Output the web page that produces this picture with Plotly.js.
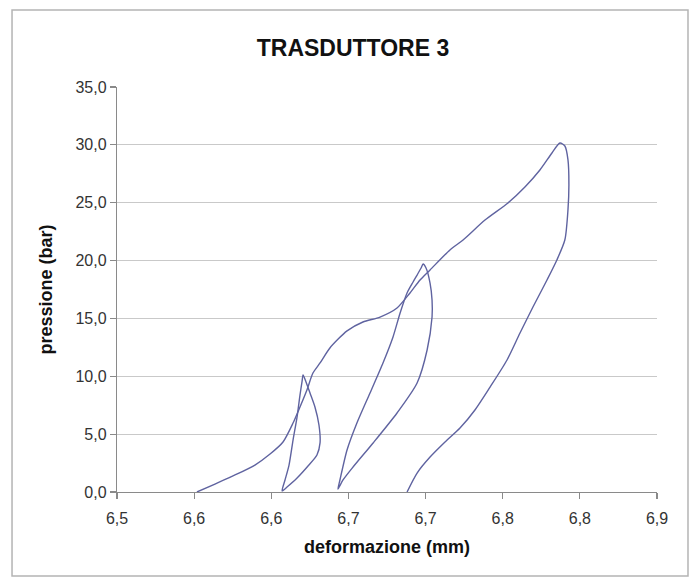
<!DOCTYPE html>
<html>
<head>
<meta charset="utf-8">
<script src="https://cdn.plot.ly/plotly-3.0.1.min.js"></script>
<style>html,body{margin:0;padding:0;background:#fff;}#chart{width:691px;height:581px;}</style>
</head>
<body>
<div id="chart"></div>
<script>
// Envelope: initial loading up to the 30 bar peak, then final unloading
var mainX = [6.5518, 6.5635, 6.5765, 6.5894, 6.5992, 6.6076, 6.6141, 6.6186, 6.6231, 6.6270,
             6.6316, 6.6380, 6.6491, 6.6594, 6.6705, 6.6815, 6.6899, 6.6964, 6.7029, 6.7158,
             6.7243, 6.7385, 6.7534, 6.7644, 6.7741, 6.7819, 6.7871, 6.7903, 6.7923, 6.7929,
             6.7923, 6.7903, 6.7851, 6.7787, 6.7696, 6.7612, 6.7528, 6.7418, 6.7320, 6.7223,
             6.7126, 6.7029, 6.6945, 6.6880];
var mainY = [0.00, 0.69, 1.47, 2.33, 3.28, 4.32, 5.96, 7.35, 8.82, 10.28,
             11.15, 12.45, 13.92, 14.69, 15.12, 15.90, 17.20, 18.32, 19.19, 20.92,
             21.78, 23.50, 24.98, 26.36, 27.83, 29.30, 30.16, 29.90, 28.70, 26.50,
             24.40, 21.80, 20.05, 18.32, 15.99, 13.74, 11.41, 9.07, 7.09, 5.53,
             4.32, 3.02, 1.64, 0.00];

// First cycle loop (peak ~10 bar)
var loop1X = [6.6070, 6.6089, 6.6115, 6.6141, 6.6167, 6.6186, 6.6199, 6.6206,
              6.6225, 6.6251, 6.6283, 6.6309, 6.6316, 6.6296, 6.6238, 6.6167, 6.6102, 6.6070];
var loop1Y = [0.09, 1.04, 2.33, 4.49, 6.48, 8.38, 9.51, 10.11,
              9.51, 8.56, 7.35, 5.79, 4.24, 3.20, 2.25, 1.21, 0.43, 0.09];

// Second cycle loop (peak ~20 bar)
var loop2X = [6.6432, 6.6445, 6.6491, 6.6555, 6.6640, 6.6724, 6.6789, 6.6835, 6.6880, 6.6919,
              6.6945, 6.6971, 6.6984,
              6.7003, 6.7029, 6.7042, 6.7042, 6.7010, 6.6945, 6.6815, 6.6660, 6.6530, 6.6465, 6.6432];
var loop2Y = [0.26, 1.04, 3.63, 5.96, 8.56, 11.15, 13.40, 15.47, 17.20, 18.15,
              18.75, 19.36, 19.70,
              19.36, 18.06, 16.59, 15.12, 12.27, 9.42, 6.83, 4.24, 2.16, 1.04, 0.26];

var xTickVals = [6.50, 6.55, 6.60, 6.65, 6.70, 6.75, 6.80, 6.85];
var xTickText = ['6,5', '6,6', '6,6', '6,7', '6,7', '6,8', '6,8', '6,9'];
var yTickVals = [0, 5, 10, 15, 20, 25, 30, 35];
var yTickText = ['0,0', '5,0', '10,0', '15,0', '20,0', '25,0', '30,0', '35,0'];

var lineStyle = {color: '#5f63a0', width: 1.4, shape: 'spline', smoothing: 0.7};
function tr(x, y) {
  return {x: x, y: y, type: 'scatter', mode: 'lines', line: lineStyle,
          showlegend: false, hoverinfo: 'skip'};
}
var data = [tr(mainX, mainY), tr(loop1X, loop1Y), tr(loop2X, loop2Y)];

var fontFam = '"Liberation Sans", Arial, Helvetica, sans-serif';
var layout = {
  width: 691, height: 581,
  margin: {l: 117, r: 34, t: 87, b: 89, pad: 0},
  paper_bgcolor: '#ffffff', plot_bgcolor: '#ffffff',
  font: {family: fontFam, color: '#222'},
  title: {text: '<b>TRASDUTTORE 3</b>', x: 353 / 691, xref: 'container', xanchor: 'center',
          y: 1 - 48 / 581, yref: 'container', yanchor: 'middle',
          font: {size: 23, family: fontFam, color: '#111'}},
  xaxis: {
    range: [6.5, 6.85], tickmode: 'array', tickvals: xTickVals, ticktext: xTickText,
    showgrid: false, zeroline: false, showline: true, linecolor: '#8a8a8a', linewidth: 1.2,
    ticks: 'outside', ticklen: 6, tickcolor: '#8a8a8a', tickwidth: 1.2,
    ticklabelstandoff: 6,
    tickfont: {size: 16, color: '#333', family: fontFam},
    title: {text: '<b>deformazione (mm)</b>', standoff: 14, font: {size: 18, color: '#111', family: fontFam}},
    fixedrange: true
  },
  yaxis: {
    range: [0, 35], tickmode: 'array', tickvals: yTickVals, ticktext: yTickText,
    showgrid: true, gridcolor: '#c9c9c9', gridwidth: 1.2,
    zeroline: false, showline: true, linecolor: '#8a8a8a', linewidth: 1.2,
    ticks: 'outside', ticklen: 6, tickcolor: '#8a8a8a', tickwidth: 1.2,
    tickfont: {size: 16, color: '#333', family: fontFam},
    title: {text: '<b>pressione (bar)</b>', standoff: 18, font: {size: 18, color: '#111', family: fontFam}},
    fixedrange: true
  },
  shapes: [{
    type: 'rect', xref: 'paper', yref: 'paper',
    x0: -0.1944, x1: 1.0574, y0: -0.2074, y1: 1.1901,
    line: {color: '#b4b4b4', width: 1.5}, fillcolor: 'rgba(0,0,0,0)', layer: 'below'
  }]
};

Plotly.newPlot('chart', data, layout, {displayModeBar: false, staticPlot: true});
</script>
</body>
</html>
